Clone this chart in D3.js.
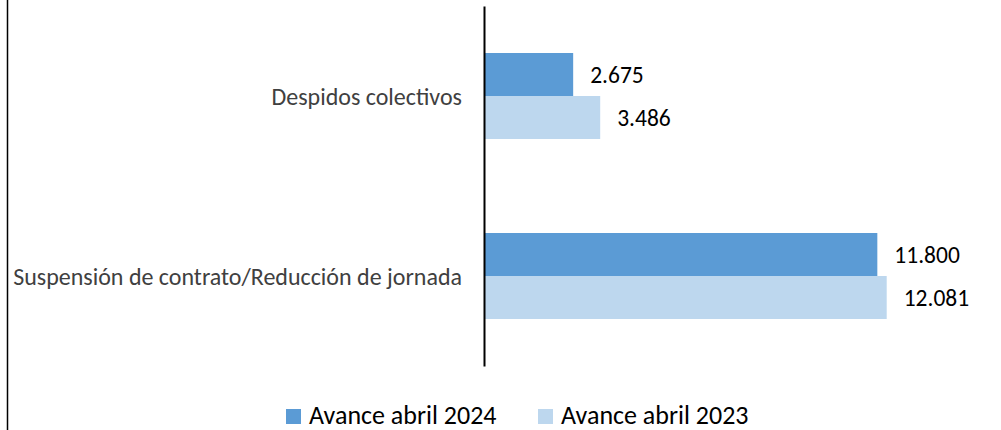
<!DOCTYPE html>
<html><head><meta charset="utf-8">
<script src="https://cdn.jsdelivr.net/npm/d3@7"></script>
<style>
html,body{margin:0;padding:0;background:#fff;}
svg{display:block;font-family:Carlito,Calibri,Lato,sans-serif;}
</style></head>
<body>
<svg id="chart" width="1001" height="430"></svg>
<script>
const categories = ["Despidos colectivos", "Suspensión de contrato/Reducción de jornada"];
const seriesNames = ["Avance abril 2024", "Avance abril 2023"];
const values2024 = [2675, 11800];
const values2023 = [3486, 12081];
const seriesColors = ["#5B9BD5", "#BDD7EE"];

const fmt = v => d3.format(",")(v).replace(/,/g, ".");

const svg = d3.select("#chart");
// outer chart border (left edge visible)
svg.append("line").attr("x1", 7.5).attr("x2", 7.5).attr("y1", 0).attr("y2", 430)
  .attr("stroke", "#000").attr("stroke-width", 1.5);

const x = d3.scaleLinear().domain([0, 15000]).range([484, 984]);
const y = d3.scaleBand().domain(categories).range([6, 366]).paddingInner(0).paddingOuter(0);
const ySub = d3.scaleBand().domain(seriesNames).range([0, y.bandwidth()]).paddingInner(0).paddingOuter(1.093);

const data = categories.map((c, i) => ({cat: c, vals: [
  {s: seriesNames[0], v: values2024[i], color: seriesColors[0]},
  {s: seriesNames[1], v: values2023[i], color: seriesColors[1]}
]}));

const groups = svg.selectAll("g.cat").data(data).join("g")
  .attr("class", "cat").attr("transform", d => `translate(0,${y(d.cat)})`);

groups.selectAll("rect").data(d => d.vals).join("rect")
  .attr("x", x(0)).attr("y", d => ySub(d.s))
  .attr("width", d => x(d.v) - x(0)).attr("height", ySub.bandwidth())
  .attr("fill", d => d.color);

groups.selectAll("text.val").data(d => d.vals).join("text")
  .attr("class", "val")
  .attr("x", d => x(d.v) + 17).attr("y", d => ySub(d.s) + ySub.bandwidth() / 2)
  .attr("dy", "0.38em").attr("font-size", 23.5).attr("fill", "#000")
  .text(d => fmt(d.v));

const axis = svg.append("g").attr("transform", `translate(${x(0)},0)`)
  .call(d3.axisLeft(y).tickSize(0).tickSizeOuter(0).tickPadding(22));
axis.select(".domain").attr("stroke", "#000").attr("stroke-width", 2);
axis.selectAll(".tick text").attr("font-size", 24).attr("fill", "#404040")
  .attr("font-family", "Carlito,Calibri,Lato,sans-serif").attr("dy", "0.36em");

// legend
const legendX = [286, 538];
const lg = svg.selectAll("g.legend").data(seriesNames).join("g")
  .attr("class", "legend").attr("transform", (d, i) => `translate(${legendX[i]},409)`);
lg.append("rect").attr("width", 15).attr("height", 15).attr("fill", (d, i) => seriesColors[i]);
lg.append("text").attr("x", 23).attr("y", 14.5).attr("font-size", 26).attr("fill", "#000").text(d => d);
</script>
</body></html>
